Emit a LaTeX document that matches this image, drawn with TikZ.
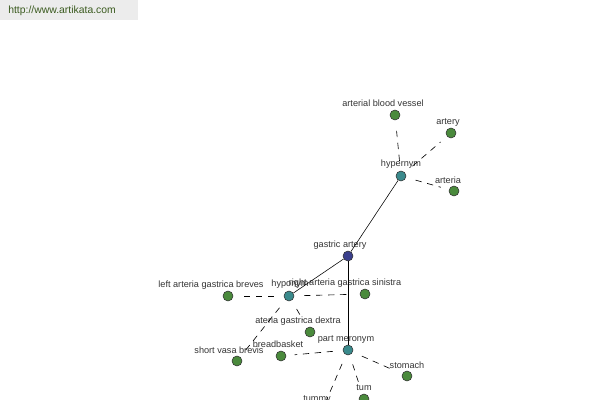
\documentclass[tikz,border=0pt]{standalone}
\usepackage{fontspec}
\setmainfont{Liberation Sans}
\usetikzlibrary{positioning}

\definecolor{rootblue}{HTML}{3A3F8C}
\definecolor{relteal}{HTML}{3A8A8C}
\definecolor{leafgreen}{HTML}{4A8A3C}
\definecolor{markgreen}{HTML}{3A5A1E}
\definecolor{markgray}{HTML}{ECECEC}

\begin{document}
\begin{tikzpicture}[x=0.025cm, y=-0.025cm,
    dot/.style={circle, draw=black!80, line width=0.4pt, inner sep=0pt, minimum size=0.25cm},
    root/.style={dot, fill=rootblue},
    rel/.style={dot, fill=relteal},
    leaf/.style={dot, fill=leafgreen},
    txt/.style={font=\fontsize{6.5}{7}\selectfont, text=black!80, inner sep=0pt},
    tie/.style={line width=0.4pt},
    sub/.style={line width=0.45pt, dash pattern=on 4.5pt off 4pt, shorten <=7pt, shorten >=6pt}]
  \useasboundingbox (0,0) rectangle (600,400);
  \clip (0,0) rectangle (600,400);
  % Header
  \fill[markgray] (0,0) rectangle (138,20);
  \node (www) [font=\fontsize{7.4}{8}\selectfont, text=markgreen, inner sep=0pt, anchor=west] at (8,11) {http://www.artikata.com};
  % Nodes
  \node (ga) [root] at (348, 256) {};
  \node (hyper) [rel] at (401, 176) {};
  \node (hypo) [rel] at (289, 296) {};
  \node (mero) [rel] at (348, 350) {};
  \node (abv) [leaf] at (395, 115) {};
  \node (artery) [leaf] at (451, 133) {};
  \node (arteria) [leaf] at (454, 191) {};
  \node (lagb) [leaf] at (228, 296) {};
  \node (rags) [leaf] at (365, 294) {};
  \node (agd) [leaf] at (310, 332) {};
  \node (svb) [leaf] at (237, 361) {};
  \node (bread) [leaf] at (281, 356) {};
  \node (stomach) [leaf] at (407, 376) {};
  \node (tum) [leaf] at (364, 399) {};
  \node (tummy) [leaf] at (321, 413) {};
  % Labels
  \node (t-ga) [txt] at (340, 245) {gastric artery};
  \node (t-hyper) [txt] at (401, 164) {hypernym};
  \node (t-hypo) [txt] at (290, 284) {hyponym};
  \node (t-mero) [txt] at (346, 339) {part meronym};
  \node (t-abv) [txt] at (383, 103) {arterial blood vessel};
  \node (t-artery) [txt] at (448, 122) {artery};
  \node (t-arteria) [txt] at (448, 180) {arteria};
  \node (t-lagb) [txt] at (211, 285) {left arteria gastrica breves};
  \node (t-rags) [txt] at (345, 283) {right arteria gastrica sinistra};
  \node (t-agd) [txt] at (298, 321) {ateria gastrica dextra};
  \node (t-svb) [txt] at (229, 350) {short vasa brevis};
  \node (t-bread) [txt] at (278, 344) {breadbasket};
  \node (t-stomach) [txt] at (407, 365) {stomach};
  \node (t-tum) [txt] at (364, 388) {tum};
  \node (t-tummy) [txt] at (317, 399) {tummy};
  % Edges
  \draw[tie] (ga) -- (hyper);
  \draw[tie] (ga) -- (hypo);
  \draw[tie] (ga) -- (mero);
  \foreach \leafnode in {abv, artery, arteria}
    \draw[sub] (hyper) -- (\leafnode);
  \foreach \leafnode in {lagb, rags, agd, svb}
    \draw[sub] (hypo) -- (\leafnode);
  \foreach \leafnode in {bread, stomach, tum, tummy}
    \draw[sub] (mero) -- (\leafnode);
\end{tikzpicture}
\end{document}
